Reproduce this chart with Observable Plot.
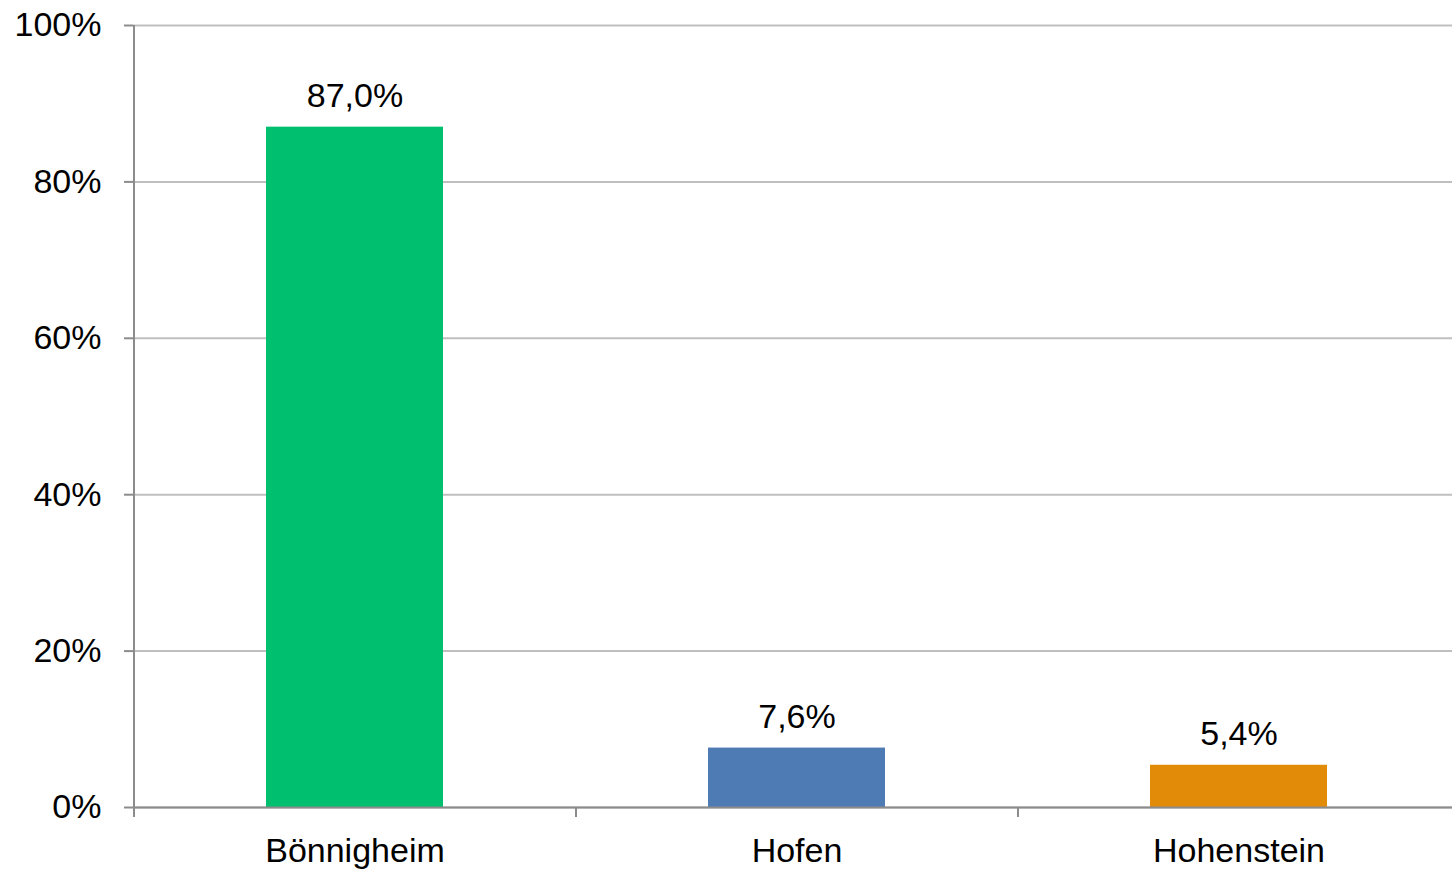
<!DOCTYPE html>
<html>
<head>
<meta charset="utf-8">
<script src="https://cdn.jsdelivr.net/npm/d3@7"></script>
<script src="https://cdn.jsdelivr.net/npm/@observablehq/plot@0.6"></script>
<style>
  html, body { margin: 0; padding: 0; background: #fff; }
  #chart svg { display: block; }
</style>
</head>
<body>
<div id="chart"></div>
<script>
const categories = ["Bönnigheim", "Hofen", "Hohenstein"];
const values = [87.0, 7.6, 5.4];
const colors = ["#00BF6F", "#4F7BB5", "#E18B08"];
const yTicks = [0, 20, 40, 60, 80, 100];

const data = categories.map((c, i) => ({category: c, value: values[i], color: colors[i]}));

const W = 1452, H = 871;
const mL = 133, mR = 0, mT = 25, mB = 64;
const step = 442;
const xEnd = mL + step * categories.length;
const font = "'Liberation Sans', Arial, sans-serif";
const fmt = v => v.toFixed(1).replace(".", ",") + "%";

const chart = Plot.plot({
  width: W,
  height: H,
  marginLeft: mL,
  marginRight: mR,
  marginTop: mT,
  marginBottom: mB,
  style: {fontFamily: font, fontSize: "34px", color: "#000", background: "#fff"},
  x: {domain: categories, range: [mL, xEnd], paddingInner: 0.6, paddingOuter: 0.3},
  y: {domain: [0, 100]},
  marks: [
    Plot.gridY(yTicks, {stroke: "#bfbfbf", strokeOpacity: 1, strokeWidth: 2}),
    Plot.barY(data, {x: "category", y: "value", fill: "color"}),
    Plot.ruleY([0], {stroke: "#8c8c8c", strokeWidth: 2}),
    Plot.ruleX([categories[0]], {dx: -step / 2, stroke: "#8c8c8c", strokeWidth: 2}),
    Plot.tickX(categories, {x: d => d, dx: -step / 2, insetTop: H - mT - mB, insetBottom: -10, stroke: "#8c8c8c", strokeWidth: 2}),
    Plot.axisY(yTicks, {tickSize: 9, tickPadding: 23, tickFormat: d => d + "%", stroke: "#8c8c8c", strokeWidth: 2, fontSize: 34, label: null}),
    Plot.axisX({tickSize: 0, tickPadding: 30, fontSize: 34, label: null}),
    Plot.text(data, {x: "category", y: "value", text: d => fmt(d.value), lineAnchor: "bottom", dy: -20, fontSize: 34, fill: "#000"})
  ]
});
document.getElementById("chart").appendChild(chart);
</script>
</body>
</html>
